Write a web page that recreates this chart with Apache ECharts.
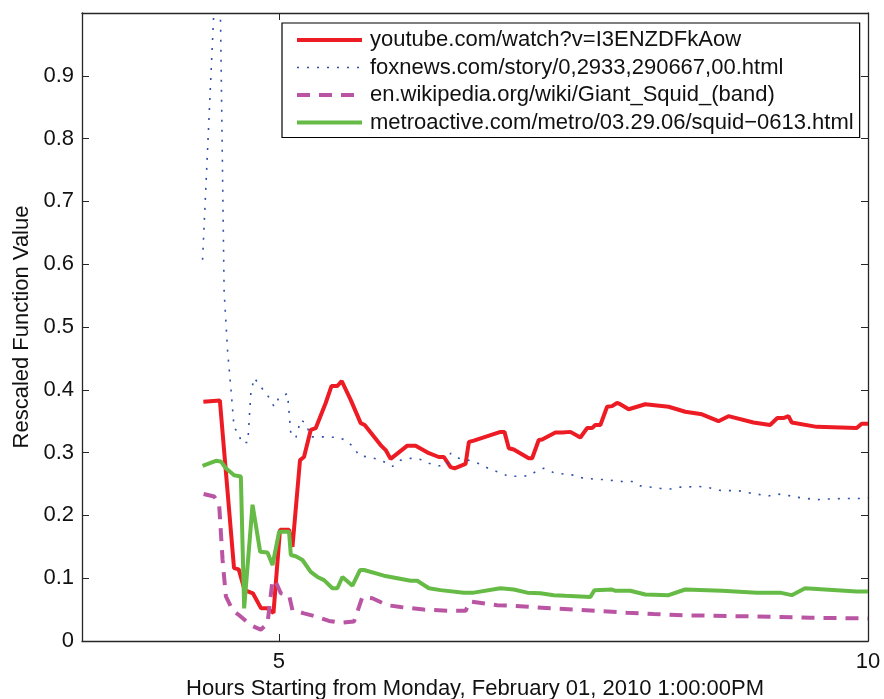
<!DOCTYPE html>
<html>
<head>
<meta charset="utf-8">
<title>Rescaled Function Value</title>
<script src="https://cdn.jsdelivr.net/npm/echarts@6/dist/echarts.min.js"></script>
<style>
  html, body { margin: 0; padding: 0; background: #fff; }
  #chart { width: 884px; height: 699px; }
</style>
</head>
<body>
<div id="chart"></div>
<script>
// series values (hours, rescaled value)
const youtubeX = [4.36, 4.50, 4.62, 4.66, 4.71, 4.78, 4.85, 4.90, 4.955, 5.01, 5.087, 5.116, 5.18, 5.214, 5.271, 5.314, 5.398, 5.447, 5.497, 5.534, 5.61, 5.695, 5.729, 5.864, 5.907, 5.949, 6.091, 6.161, 6.274, 6.358, 6.401, 6.458, 6.492, 6.585, 6.613, 6.655, 6.881, 6.915, 6.952, 6.994, 7.121, 7.15, 7.206, 7.235, 7.347, 7.404, 7.475, 7.559, 7.616, 7.658, 7.686, 7.729, 7.786, 7.828, 7.87, 7.898, 7.969, 8.11, 8.308, 8.449, 8.591, 8.731, 8.816, 9.028, 9.169, 9.231, 9.282, 9.325, 9.353, 9.565, 9.904, 9.947, 10];
const youtubeY = [0.381, 0.383, 0.116, 0.114, 0.081, 0.076, 0.052, 0.052, 0.045, 0.177, 0.177, 0.150, 0.288, 0.293, 0.336, 0.339, 0.379, 0.406, 0.406, 0.414, 0.384, 0.347, 0.344, 0.312, 0.304, 0.290, 0.311, 0.311, 0.299, 0.293, 0.293, 0.277, 0.275, 0.282, 0.317, 0.319, 0.333, 0.333, 0.307, 0.305, 0.291, 0.291, 0.320, 0.321, 0.332, 0.332, 0.333, 0.324, 0.339, 0.339, 0.344, 0.344, 0.373, 0.374, 0.379, 0.377, 0.369, 0.377, 0.373, 0.365, 0.361, 0.350, 0.358, 0.348, 0.344, 0.355, 0.355, 0.358, 0.348, 0.341, 0.339, 0.346, 0.346];

const foxnewsX = [4.353, 4.492, 4.536, 4.565, 4.593, 4.621, 4.664, 4.678, 4.737, 4.763, 4.791, 4.847, 4.932, 4.96, 5.003, 5.074, 5.102, 5.144, 5.186, 5.229, 5.271, 5.413, 5.497, 5.568, 5.638, 5.681, 5.765, 5.85, 5.921, 5.964, 6.034, 6.119, 6.203, 6.274, 6.358, 6.43, 6.458, 6.528, 6.655, 6.726, 6.797, 6.881, 6.952, 7.121, 7.192, 7.248, 7.333, 7.503, 7.587, 7.757, 7.913, 7.997, 8.068, 8.237, 8.322, 8.407, 8.57, 8.653, 8.737, 8.907, 8.986, 9.155, 9.231, 9.316, 9.396, 9.559, 9.644, 9.814, 9.981, 10];
const foxnewsY = [0.607, 1.18, 0.557, 0.463, 0.403, 0.339, 0.331, 0.316, 0.316, 0.395, 0.419, 0.405, 0.384, 0.373, 0.388, 0.394, 0.331, 0.323, 0.352, 0.347, 0.325, 0.325, 0.324, 0.320, 0.308, 0.295, 0.293, 0.289, 0.283, 0.278, 0.288, 0.291, 0.289, 0.283, 0.279, 0.280, 0.299, 0.291, 0.286, 0.280, 0.273, 0.268, 0.262, 0.263, 0.271, 0.275, 0.268, 0.264, 0.259, 0.257, 0.254, 0.254, 0.247, 0.243, 0.242, 0.245, 0.246, 0.244, 0.240, 0.239, 0.236, 0.231, 0.234, 0.232, 0.229, 0.225, 0.226, 0.227, 0.227, 0.228];

const wikiX = [4.362, 4.452, 4.494, 4.523, 4.551, 4.608, 4.664, 4.763, 4.847, 4.904, 4.947, 4.975, 5.017, 5.087, 5.116, 5.214, 5.314, 5.426, 5.525, 5.638, 5.709, 5.794, 5.921, 6.034, 6.231, 6.458, 6.585, 6.621, 6.853, 6.994, 7.305, 7.531, 7.701, 7.955, 8.181, 8.435, 9.057, 9.508, 10];
const wikiY = [0.234, 0.230, 0.217, 0.129, 0.071, 0.049, 0.041, 0.025, 0.018, 0.028, 0.097, 0.094, 0.076, 0.073, 0.049, 0.044, 0.039, 0.032, 0.029, 0.031, 0.070, 0.068, 0.057, 0.054, 0.050, 0.048, 0.048, 0.063, 0.057, 0.056, 0.052, 0.050, 0.048, 0.045, 0.043, 0.041, 0.039, 0.037, 0.036];

const metroX = [4.353, 4.466, 4.508, 4.551, 4.621, 4.678, 4.706, 4.777, 4.842, 4.904, 4.947, 5.003, 5.087, 5.102, 5.144, 5.201, 5.271, 5.328, 5.384, 5.455, 5.497, 5.54, 5.625, 5.689, 5.723, 5.892, 5.949, 6.119, 6.175, 6.274, 6.373, 6.57, 6.655, 6.881, 6.994, 7.108, 7.22, 7.333, 7.432, 7.644, 7.678, 7.828, 7.856, 7.983, 8.11, 8.308, 8.449, 8.76, 9.057, 9.254, 9.353, 9.466, 9.904, 10];
const metroY = [0.279, 0.287, 0.286, 0.275, 0.264, 0.262, 0.052, 0.217, 0.142, 0.141, 0.121, 0.174, 0.174, 0.137, 0.135, 0.129, 0.110, 0.102, 0.097, 0.084, 0.084, 0.102, 0.088, 0.113, 0.113, 0.104, 0.102, 0.096, 0.096, 0.084, 0.081, 0.077, 0.077, 0.084, 0.082, 0.077, 0.076, 0.073, 0.072, 0.070, 0.081, 0.082, 0.080, 0.080, 0.074, 0.073, 0.082, 0.080, 0.077, 0.077, 0.073, 0.084, 0.079, 0.079];

const seriesNames = [
  'youtube.com/watch?v=I3ENZDFkAow',
  'foxnews.com/story/0,2933,290667,00.html',
  'en.wikipedia.org/wiki/Giant_Squid_(band)',
  'metroactive.com/metro/03.29.06/squid\u22120613.html'
];
const xTicks = [5, 10];
const yTicks = [0, 0.1, 0.2, 0.3, 0.4, 0.5, 0.6, 0.7, 0.8, 0.9];

const FONT = '"Liberation Sans", Arial, Helvetica, sans-serif';
const FONT_SIZE = 22;
const AXIS_COLOR = '#262626';

// colour, width, dash per series
const styles = [
  { color: '#ED1C24', width: 4, type: 'solid' },
  { color: '#2F4FA8', width: 1.6, type: [2, 8] },
  { color: '#BA55A4', width: 4, type: [13, 9] },
  { color: '#66BB46', width: 4, type: 'solid' }
];

const zip = (xs, ys) => xs.map((x, i) => [x, ys[i]]);

const chart = echarts.init(document.getElementById('chart'));

const lineSeries = (idx, xs, ys) => ({
  name: seriesNames[idx],
  type: 'line',
  data: zip(xs, ys),
  symbol: 'none',
  showSymbol: false,
  clip: true,
  animation: false,
  lineStyle: { ...styles[idx] },
  itemStyle: { color: styles[idx].color }
});

const option = {
  backgroundColor: '#fff',
  textStyle: { fontFamily: FONT },
  grid: { left: 82, right: 16, top: 13, bottom: 58, containLabel: false, outerBoundsMode: 'none' },
  legend: {
    orient: 'vertical',
    left: 282,
    top: 23,
    padding: [6, 6, 4, 13],
    itemWidth: 65,
    itemHeight: 14,
    itemGap: 5.5,
    borderColor: '#000',
    borderWidth: 1.2,
    backgroundColor: '#fff',
    itemStyle: { opacity: 0, borderWidth: 0 },
    textStyle: { fontFamily: FONT, fontSize: FONT_SIZE, color: '#111', lineHeight: 22, padding: [0, 0, 0, 3] },
    data: seriesNames.map((name, i) => ({
      name,
      lineStyle: { color: styles[i].color, width: styles[i].width, type: styles[i].type }
    })),
    selectedMode: false
  },
  xAxis: [
    {
      type: 'value',
      min: 3.33,
      max: 10,
      name: 'Hours Starting from Monday, February 01, 2010 1:00:00PM',
      nameLocation: 'middle',
      nameGap: 36,
      nameTextStyle: { fontFamily: FONT, fontSize: FONT_SIZE, color: '#111' },
      axisLine: { show: true, onZero: false, lineStyle: { color: AXIS_COLOR, width: 1.3 } },
      axisTick: { show: true, inside: true, length: 7, customValues: xTicks, lineStyle: { color: AXIS_COLOR } },
      axisLabel: { customValues: xTicks, margin: 10, fontFamily: FONT, fontSize: FONT_SIZE, color: '#111' },
      splitLine: { show: false }
    },
    {
      type: 'value',
      position: 'top',
      min: 3.33,
      max: 10,
      axisLine: { show: true, onZero: false, lineStyle: { color: AXIS_COLOR, width: 1.3 } },
      axisTick: { show: true, inside: true, length: 7, customValues: xTicks, lineStyle: { color: AXIS_COLOR } },
      axisLabel: { show: false },
      splitLine: { show: false }
    }
  ],
  yAxis: [
    {
      type: 'value',
      min: 0,
      max: 1,
      interval: 0.1,
      name: 'Rescaled Function Value',
      nameLocation: 'middle',
      nameGap: 49,
      nameTextStyle: { fontFamily: FONT, fontSize: FONT_SIZE, color: '#111' },
      axisLine: { show: true, onZero: false, lineStyle: { color: AXIS_COLOR, width: 1.3 } },
      axisTick: { show: true, inside: true, length: 7, lineStyle: { color: AXIS_COLOR } },
      axisLabel: {
        margin: 8,
        fontFamily: FONT,
        fontSize: FONT_SIZE,
        color: '#111',
        formatter: v => (yTicks.some(t => Math.abs(t - v) < 1e-6) ? String(Math.round(v * 10) / 10) : '')
      },
      splitLine: { show: false }
    },
    {
      type: 'value',
      position: 'right',
      min: 0,
      max: 1,
      interval: 0.1,
      axisLine: { show: true, onZero: false, lineStyle: { color: AXIS_COLOR, width: 1.3 } },
      axisTick: { show: true, inside: true, length: 7, lineStyle: { color: AXIS_COLOR } },
      axisLabel: { show: false },
      splitLine: { show: false }
    }
  ],
  series: [
    lineSeries(0, youtubeX, youtubeY),
    lineSeries(1, foxnewsX, foxnewsY),
    lineSeries(2, wikiX, wikiY),
    lineSeries(3, metroX, metroY)
  ]
};

chart.setOption(option);
</script>
</body>
</html>
